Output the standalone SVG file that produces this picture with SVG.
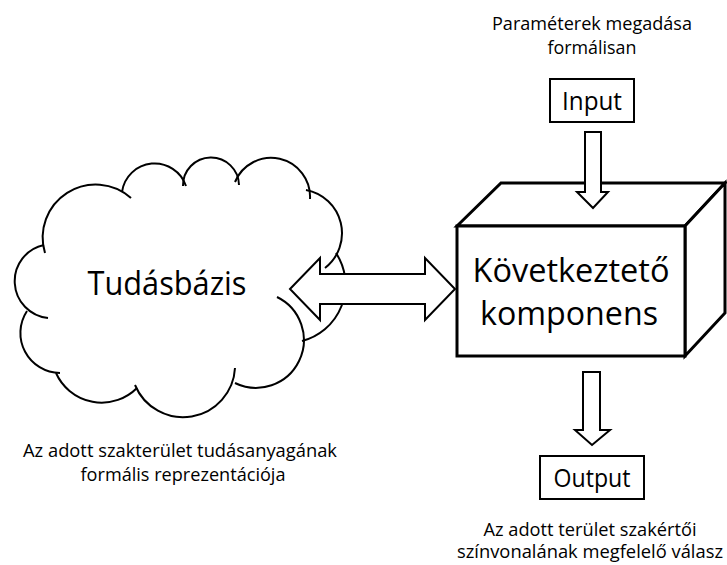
<svg xmlns="http://www.w3.org/2000/svg" width="727" height="565" viewBox="0 0 727 565">
<style>
.t{font-family:"Open Sans","Liberation Sans",sans-serif;fill:#000;text-anchor:middle}
.big{font-size:32.5px}
.mid{font-size:25px}
.sm{font-size:18px}
.cl{fill:none;stroke:#000;stroke-width:2}
.ar{fill:#fff;stroke:#000;stroke-width:2;stroke-linejoin:miter}
.bx{fill:#fff;stroke:#000;stroke-width:2}
.cube{fill:#fff;stroke:#000;stroke-width:3;stroke-linejoin:miter}
</style>
<rect width="727" height="565" fill="#fff"/>
<g id="tudasbazis">
<path class="cl" d="M48,318 A37,37 0 0 1 44,245"/>
<path class="cl" d="M45,253 A53,53 0 0 1 131,198"/>
<path class="cl" d="M122,192 A33,33 0 0 1 186,186"/>
<path class="cl" d="M183,186 A28,28 0 0 1 239,185"/>
<path class="cl" d="M235,182 A39,39 0 0 1 310,199"/>
<path class="cl" d="M306,190 A44,44 0 0 1 325,268"/>
<path class="cl" d="M336,253 A58,58 0 0 1 302,341"/>
<path class="cl" d="M277,297 A47,47 0 1 1 235,383"/>
<path class="cl" d="M235,368 A52,52 0 0 1 135,385"/>
<path class="cl" d="M137,388 A50,50 0 0 1 56,373"/>
<path class="cl" d="M60,373 A40,40 0 0 1 27,311"/>
<text class="t big" x="167" y="295" textLength="159" lengthAdjust="spacingAndGlyphs">Tudásbázis</text>
</g>
<g id="kovetkezteto">
<path class="cube" d="M457,226 L501,183 L725,183 L685,226 Z"/>
<path class="cube" d="M685,226 L725,183 L725,313 L685,356 Z"/>
<rect class="cube" x="457" y="226" width="228" height="130"/>
<text class="t big" x="571" y="282" textLength="197" lengthAdjust="spacingAndGlyphs">Következtető</text>
<text class="t big" x="569" y="325" textLength="178" lengthAdjust="spacingAndGlyphs">komponens</text>
</g>
<g id="input">
<rect class="bx" x="550" y="79" width="84" height="43"/>
<text class="t mid" x="592" y="110" textLength="60" lengthAdjust="spacingAndGlyphs">Input</text>
</g>
<g id="output">
<rect class="bx" x="540" y="456" width="104" height="43"/>
<text class="t mid" x="592" y="487" textLength="77" lengthAdjust="spacingAndGlyphs">Output</text>
</g>
<g id="labels">
<text class="t sm" x="592" y="30" textLength="200" lengthAdjust="spacingAndGlyphs">Paraméterek megadása</text>
<text class="t sm" x="592" y="54" textLength="89" lengthAdjust="spacingAndGlyphs">formálisan</text>
<text class="t sm" x="180" y="457" textLength="314" lengthAdjust="spacingAndGlyphs">Az adott szakterület tudásanyagának</text>
<text class="t sm" x="183" y="481" textLength="205" lengthAdjust="spacingAndGlyphs">formális reprezentációja</text>
<text class="t sm" x="590" y="536" textLength="213" lengthAdjust="spacingAndGlyphs">Az adott terület szakértői</text>
<text class="t sm" x="590" y="558" textLength="266" lengthAdjust="spacingAndGlyphs">színvonalának megfelelő válasz</text>
</g>
<g id="connectors">
<path class="ar" d="M290,289 L320,258 L320,274 L425,274 L425,258 L455,289 L425,320 L425,304 L320,304 L320,320 Z"/>
<path class="ar" d="M585,132 L601,132 L601,192 L608,192 L593,208 L577,192 L585,192 Z"/>
<path class="ar" d="M583,372 L600,372 L600,430 L610,430 L592,445 L575,430 L583,430 Z"/>
</g>
</svg>
